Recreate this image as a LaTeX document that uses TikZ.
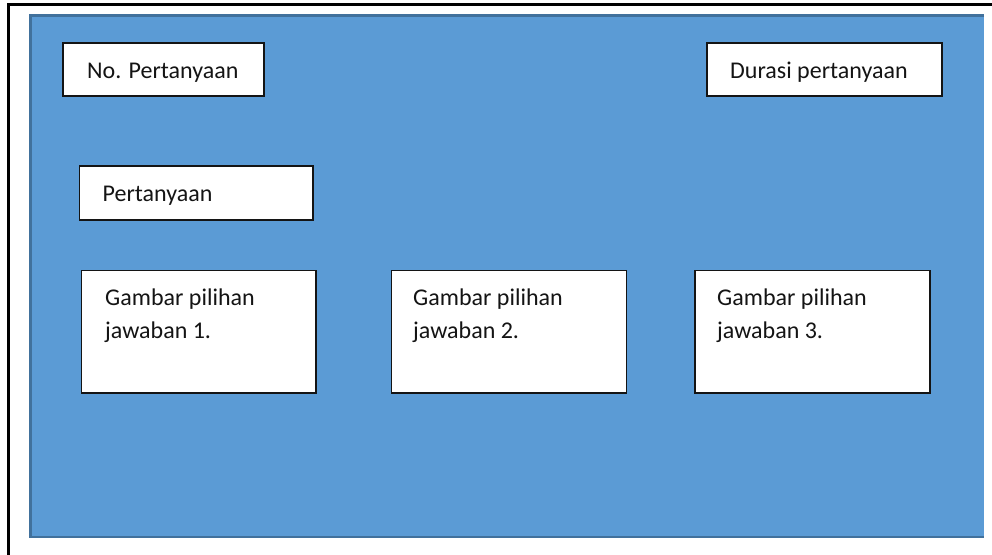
\documentclass[tikz,border=0pt]{standalone}
\usepackage{fontspec}
\setmainfont{Carlito}
\definecolor{bgblue}{HTML}{5B9BD5}
\definecolor{bgedge}{HTML}{41719C}
\definecolor{boxedge}{HTML}{141414}
\begin{document}
\begin{tikzpicture}[x=1pt,y=-1pt,
  panel/.style={draw=boxedge,line width=1.8pt,fill=white},
  lbl/.style={anchor=base west,inner sep=0pt,font=\fontsize{24}{33}\selectfont,align=left,text=black!92}]
\useasboundingbox (0,0) rectangle (992,554);
\draw[line width=2.3pt] (8.5,600) -- (8.5,4.5) -- (1000,4.5);
\fill[bgblue] (30.5,15.5) rectangle (984,537);
\draw[bgedge,line width=2.6pt] (984,15.5) -- (30.5,15.5) -- (30.5,537) -- (984,537);
% boxes
\draw[panel] (63,43) rectangle (264,96) coordinate (nobox);
\draw[panel] (707,43) rectangle (942,96) coordinate (durbox);
\draw[panel] (79.5,166) rectangle (313,220) coordinate (qbox);
\draw[panel] (81.5,270.5) rectangle (316,393) coordinate (g1);
\draw[panel] (391.5,270.5) rectangle (626.5,393) coordinate (g2);
\draw[panel] (695,270.5) rectangle (930,393) coordinate (g3);
% texts
\node[lbl] (tno) at (87,78) {No. Pertanyaan};
\node[lbl] (tdur) at (730,78) {Durasi pertanyaan};
\node[lbl] (tq) at (102.5,201) {Pertanyaan};
\node[lbl] (tg1) at (105,338) {Gambar pilihan\\jawaban 1.};
\node[lbl] (tg2) at (413,338) {Gambar pilihan\\jawaban 2.};
\node[lbl] (tg3) at (717,338) {Gambar pilihan\\jawaban 3.};
\end{tikzpicture}
\end{document}
